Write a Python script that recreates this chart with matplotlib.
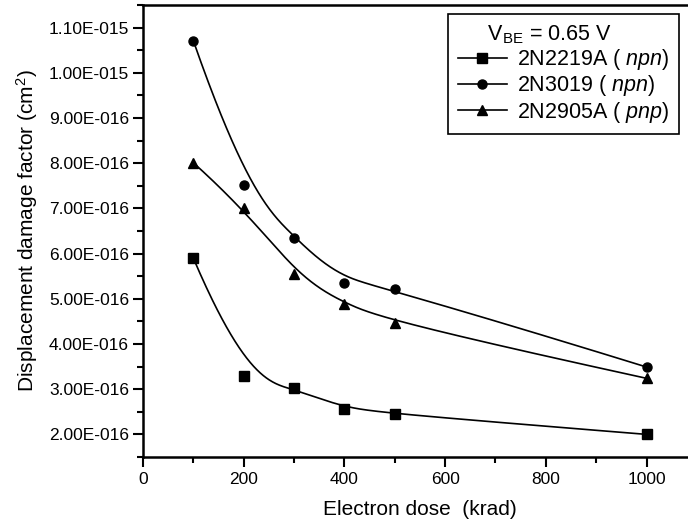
import numpy as np
import matplotlib
matplotlib.use("Agg")
import matplotlib.pyplot as plt
from matplotlib.ticker import MultipleLocator, FuncFormatter

plt.rcParams['font.family'] = ['Liberation Sans', 'DejaVu Sans']
plt.rcParams['mathtext.fontset'] = 'custom'
plt.rcParams['mathtext.rm'] = 'Liberation Sans'
plt.rcParams['mathtext.it'] = 'Liberation Sans:italic'

# data
dose = [100, 200, 300, 400, 500, 1000]
d_2n2219a = [5.90e-16, 3.29e-16, 3.02e-16, 2.56e-16, 2.45e-16, 2.00e-16]
d_2n3019 = [10.71e-16, 7.52e-16, 6.35e-16, 5.35e-16, 5.21e-16, 3.49e-16]
d_2n2905a = [8.01e-16, 7.01e-16, 5.55e-16, 4.88e-16, 4.46e-16, 3.24e-16]
labels = ["2N2219A ( $\\it{npn}$)", "2N3019 ( $\\it{npn}$)", "2N2905A ( $\\it{pnp}$)"]
markers = ["s", "o", "^"]
xticks = [0, 200, 400, 600, 800, 1000]
yticks = [2e-16, 3e-16, 4e-16, 5e-16, 6e-16, 7e-16, 8e-16, 9e-16, 10e-16, 11e-16]


def bspline(px, py, n=400, k=3):
    # clamped cubic B-spline with the data points as control points
    P = np.column_stack([px, py]).astype(float)
    m = len(P)
    knots = np.concatenate([np.zeros(k), np.linspace(0, 1, m - k + 1), np.ones(k)])
    out = []
    for t in np.linspace(0, 1, n):
        if t >= 1:
            s = m - 1
        else:
            s = np.searchsorted(knots, t, side='right') - 1
        d = [P[j + s - k].copy() for j in range(k + 1)]
        for r in range(1, k + 1):
            for j in range(k, r - 1, -1):
                a = (t - knots[j + s - k]) / (knots[j + 1 + s - r] - knots[j + s - k])
                d[j] = (1 - a) * d[j - 1] + a * d[j]
        out.append(d[k])
    out = np.array(out)
    return out[:, 0], out[:, 1]


def efmt(v, pos):
    m, e = f"{v:.2E}".split("E")
    return f"{m}E{int(e):+04d}".replace("+", "")


fig = plt.figure(figsize=(6.88, 5.26), dpi=100)
ax = fig.add_axes([0.2078, 0.1312, 0.8052, 0.8593])

for ys, mk, lab in zip([d_2n2219a, d_2n3019, d_2n2905a], markers, labels):
    ms = 7.5 if mk == '^' else 6.5
    cx, cy = bspline(dose, ys)
    ax.plot(cx, cy, color='black', lw=1.2)
    ax.plot(dose, ys, linestyle='none', marker=mk, color='black', ms=ms)
    ax.plot([], [], color='black', lw=1.2, marker=mk, ms=ms, label=lab)

ax.set_xticks(xticks)
ax.set_yticks(yticks)
ax.xaxis.set_minor_locator(MultipleLocator(100))
ax.yaxis.set_minor_locator(MultipleLocator(0.5e-16))
ax.yaxis.set_major_formatter(FuncFormatter(efmt))
ax.set_xlim(0, 1100)
ax.set_ylim(1.5e-16, 1.15e-15)

for sp in ax.spines.values():
    sp.set_linewidth(1.8)
ax.tick_params(which='major', direction='out', length=7, width=1.5, labelsize=12.5, pad=3)
ax.tick_params(which='minor', direction='out', length=4, width=1.5)
ax.tick_params(axis='x', which='major', pad=4)

ax.set_xlabel("Electron dose  (krad)", fontsize=15, labelpad=9)
ax.set_ylabel("Displacement damage factor (cm$^2$)", fontsize=15, labelpad=6)

leg = ax.legend(title="     V$_{\\mathrm{BE}}$ = 0.65 V", loc='upper left',
                bbox_to_anchor=(448 / 688, 1 - 14 / 526), bbox_transform=fig.transFigure,
                borderaxespad=0, fancybox=False, edgecolor='black', framealpha=1,
                fontsize=15.5, title_fontsize=15.5, handlelength=2.3,
                handletextpad=0.45, labelspacing=0.05, alignment='left',
                borderpad=0.45)
leg.get_frame().set_linewidth(1.2)

fig.savefig("out.png", dpi=100)
